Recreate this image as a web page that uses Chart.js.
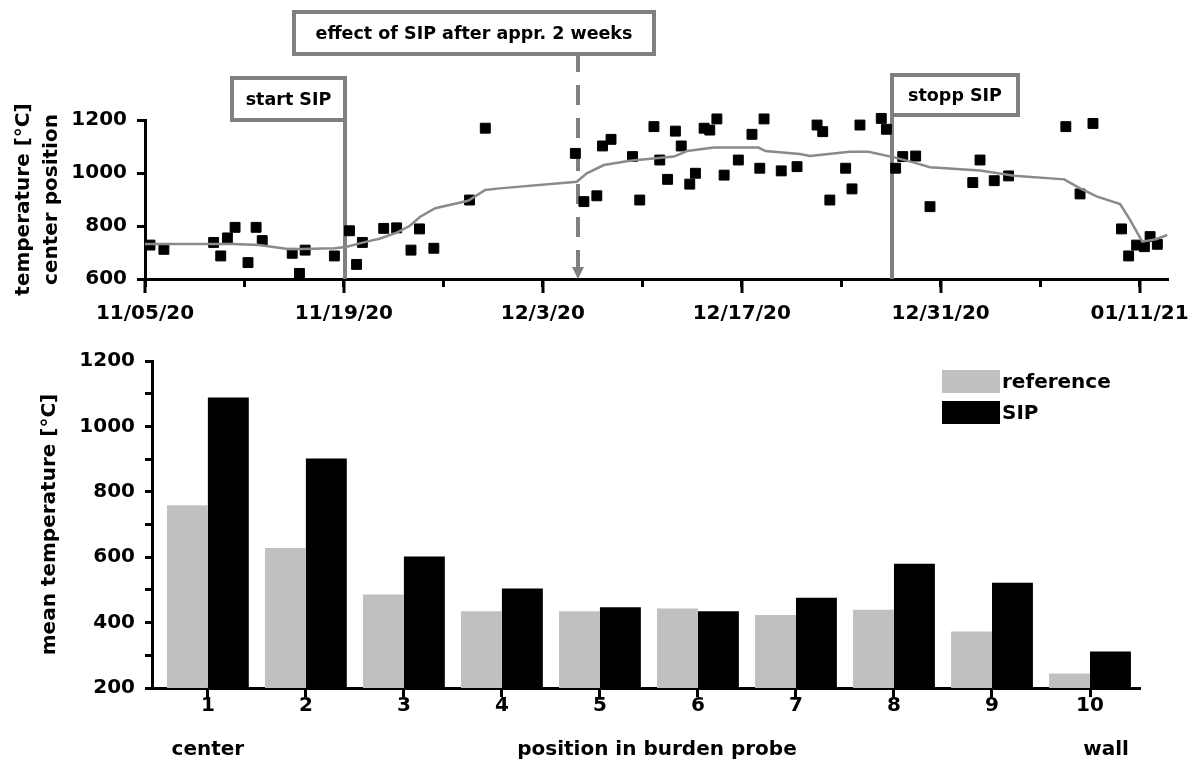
<!DOCTYPE html>
<html lang="en">
<head>
<meta charset="UTF-8">
<title>Burden probe temperatures with SIP</title>
<script src="https://cdn.jsdelivr.net/npm/chart.js"></script>
<style>
  body { margin: 0; background: #fff; }
  canvas { position: absolute; left: 0; }
  #tempChart { top: 0; }
  #meanChart { top: 330px; }
</style>
</head>
<body>
<canvas id="tempChart" width="1192" height="330"></canvas>
<canvas id="meanChart" width="1192" height="432"></canvas>
<script>
// time axis: days counted from 11/05/20
const weekTicks = [0, 7, 14, 21, 28, 35, 42, 49, 56, 63, 70];
const dateTicks = [0, 14, 28, 42, 56, 70];
const dateLabels = ['11/05/20', '11/19/20', '12/3/20', '12/17/20', '12/31/20', '01/11/21'];

// single readings at the center position
const sampleDays = [0.35, 1.33, 4.83, 5.33, 5.8, 6.34, 7.25, 7.82, 8.25, 10.36, 10.87, 11.27, 13.33, 14.39,
  14.89, 15.3, 16.8, 17.71, 18.72, 19.32, 20.33, 22.84, 23.95, 30.29, 30.89, 31.8, 32.2, 32.8, 34.31,
  34.82, 35.82, 36.23, 36.78, 37.33, 37.74, 38.34, 38.74, 39.35, 39.75, 40.25, 40.76, 41.76, 42.72,
  43.27, 43.57, 44.78, 45.89, 47.3, 47.7, 48.2, 49.31, 49.76, 50.32, 51.82, 52.18, 52.83, 53.33,
  54.24, 55.25, 58.26, 58.77, 59.77, 60.78, 64.81, 65.81, 66.72, 68.73, 69.23, 69.79, 70.34, 70.74, 71.25];
const sampleTemps = [728, 712, 738, 687, 755, 795, 662, 795, 745, 697, 621, 709, 687, 782,
  655, 738, 791, 793, 709, 789, 716, 898, 1169, 1074, 892, 914, 1102, 1127, 1062,
  898, 1175, 1049, 976, 1158, 1102, 958, 999, 1169, 1162, 1204, 992, 1049, 1146,
  1018, 1204, 1008, 1024, 1181, 1156, 898, 1018, 940, 1181, 1206, 1165, 1018, 1062,
  1064, 873, 964, 1049, 971, 989, 1175, 921, 1187, 789, 687, 728, 722, 760, 731];

// smoothed course
const trendDays = [0, 6.24, 8.05, 10.16, 13.38, 14.19, 15.6, 16.5, 17.71, 18.62, 19.37, 20.43, 22.74,
  23.95, 24.96, 30.39, 31.09, 32.3, 34.11, 37.23, 38.14, 40.05, 43.17, 43.67, 46.09, 46.79, 49.61,
  50.92, 52.73, 54.14, 55.25, 58.77, 61.18, 64.7, 65.81, 67.02, 68.63, 69.33, 70.19, 71.14, 71.95];
const trendTemps = [732, 732, 728, 712, 716, 722, 741, 752, 775, 800, 835, 867, 895,
  936, 942, 967, 999, 1030, 1046, 1062, 1083, 1096, 1096, 1083, 1072, 1064, 1080,
  1080, 1059, 1039, 1022, 1009, 990, 976, 942, 911, 883, 823, 741, 750, 766];

const eventDays = [14.05, 30.5, 52.6];
const eventLabels = ['start SIP', 'effect of SIP after appr. 2 weeks', 'stopp SIP'];

// mean temperature per probe position
const positions = [1, 2, 3, 4, 5, 6, 7, 8, 9, 10];
const referenceTemps = [759, 628, 486, 435, 435, 443, 423, 439, 373, 244];
const sipTemps = [1088, 902, 602, 504, 447, 435, 476, 580, 522, 312];

const GREY = '#808080';
const FONT = '"DejaVu Sans", sans-serif';
Chart.defaults.font.family = FONT;
Chart.defaults.font.size = 20;
Chart.defaults.font.weight = 'bold';
Chart.defaults.color = '#000';

const axisBorder = { color: '#000', width: 3 };
const axisGrid = (len) => ({ drawOnChartArea: false, offset: false, tickLength: len, tickWidth: 3, tickColor: '#000', color: '#000' });

// keep the axes where they are, labels may run into the margins
function fixHeight(h) {
  return s => { s.height = h; s.paddingLeft = 0; s.paddingRight = 0; };
}

function labelBox(ctx, x, y, w, h, text) {
  ctx.fillStyle = '#fff';
  ctx.fillRect(x, y, w, h);
  ctx.strokeStyle = GREY;
  ctx.lineWidth = 4;
  ctx.strokeRect(x, y, w, h);
  ctx.fillStyle = '#000';
  ctx.font = 'bold 17.5px ' + FONT;
  ctx.textAlign = 'center';
  ctx.textBaseline = 'middle';
  ctx.fillText(text, x + w / 2, y + h / 2 + 1);
}

const sipMarkers = {
  id: 'sipMarkers',
  beforeDatasetsDraw(chart) {
    const { ctx, chartArea: { top, bottom }, scales: { x } } = chart;
    const [xStart, xEffect, xStop] = eventDays.map(d => Math.round(x.getPixelForValue(d)));
    ctx.save();
    ctx.strokeStyle = GREY;
    ctx.lineWidth = 4;
    ctx.beginPath();
    ctx.moveTo(xStart, top - 42); ctx.lineTo(xStart, bottom);
    ctx.moveTo(xStop, top - 45); ctx.lineTo(xStop, bottom);
    ctx.stroke();
    // dashed arrow for the delayed effect
    ctx.setLineDash([20, 13]);
    ctx.beginPath();
    ctx.moveTo(xEffect, top - 68); ctx.lineTo(xEffect, bottom - 12);
    ctx.stroke();
    ctx.setLineDash([]);
    ctx.fillStyle = GREY;
    ctx.beginPath();
    ctx.moveTo(xEffect - 6, bottom - 12);
    ctx.lineTo(xEffect + 6, bottom - 12);
    ctx.lineTo(xEffect, bottom);
    ctx.closePath();
    ctx.fill();
    ctx.restore();
  },
  afterDraw(chart) {
    const { ctx, chartArea: { top, bottom }, scales: { x } } = chart;
    const [xStart, xEffect, xStop] = eventDays.map(d => Math.round(x.getPixelForValue(d)));
    ctx.save();
    labelBox(ctx, xStart - 113, top - 42, 113, 42, eventLabels[0]);
    labelBox(ctx, xEffect - 284, top - 108, 360, 42, eventLabels[1]);
    labelBox(ctx, xStop, top - 45, 126, 40, eventLabels[2]);
    // labelled dates get longer tick marks
    ctx.strokeStyle = '#000';
    ctx.lineWidth = 3;
    ctx.beginPath();
    dateTicks.forEach(d => {
      const px = Math.round(x.getPixelForValue(d));
      ctx.moveTo(px, bottom); ctx.lineTo(px, bottom + 14);
    });
    ctx.stroke();
    ctx.restore();
  }
};

new Chart(document.getElementById('tempChart'), {
  type: 'scatter',
  data: {
    datasets: [
      {
        type: 'line',
        label: 'trend',
        data: trendDays.map((d, i) => ({ x: d, y: trendTemps[i] })),
        borderColor: '#8a8a8a',
        borderWidth: 2.5,
        pointRadius: 0,
        tension: 0,
        fill: false,
        order: 0
      },
      {
        label: 'center position',
        data: sampleDays.map((d, i) => ({ x: d, y: sampleTemps[i] })),
        pointStyle: 'rect',
        pointRadius: 7,
        backgroundColor: '#000',
        borderColor: '#000',
        borderWidth: 1,
        clip: false,
        order: 1
      }
    ]
  },
  options: {
    responsive: false,
    animation: false,
    layout: { padding: { top: 120, right: 24, left: 0, bottom: 0 } },
    plugins: { legend: { display: false }, tooltip: { enabled: false } },
    scales: {
      x: {
        type: 'linear',
        min: 0,
        max: 72,
        afterFit: fixHeight(51),
        afterBuildTicks: s => { s.ticks = weekTicks.map(v => ({ value: v })); },
        border: axisBorder,
        grid: axisGrid(8),
        ticks: {
          autoSkip: false,
          maxRotation: 0,
          padding: 15,
          callback: v => {
            const i = dateTicks.indexOf(v);
            return i < 0 ? '' : dateLabels[i];
          }
        }
      },
      y: {
        min: 600,
        max: 1200,
        afterFit: s => { s.width = 145; },
        border: axisBorder,
        grid: axisGrid(8),
        ticks: { stepSize: 100, padding: 10, callback: v => (v % 200 === 0 ? v : '') },
        title: {
          display: true,
          text: ['temperature [°C]', 'center position'],
          font: { size: 20, weight: 'bold', lineHeight: 1.4 },
          padding: { top: 10, bottom: 0 }
        }
      }
    }
  },
  plugins: [sipMarkers]
});

const barLegend = {
  id: 'barLegend',
  afterDraw(chart) {
    const { ctx, chartArea, scales: { x } } = chart;
    ctx.save();
    ctx.font = 'bold 20px ' + FONT;
    ctx.textBaseline = 'middle';
    ctx.textAlign = 'left';
    chart.data.datasets.forEach((ds, i) => {
      const y = chartArea.top + 9 + i * 31;
      ctx.fillStyle = ds.backgroundColor;
      ctx.fillRect(chartArea.right - 198, y, 58, 23);
      ctx.fillStyle = '#000';
      ctx.fillText(ds.label, chartArea.right - 138, y + 13);
    });
    // ends of the probe and axis caption
    const first = x.getPixelForValue(positions[0]);
    const last = x.getPixelForValue(positions[positions.length - 1]) + 16;
    const y = x.bottom - 12;
    ctx.textAlign = 'center';
    ctx.fillText('center', first, y);
    ctx.fillText('wall', last, y);
    ctx.fillText('position in burden probe', (first + last) / 2, y);
    ctx.restore();
  }
};

new Chart(document.getElementById('meanChart'), {
  type: 'bar',
  data: {
    labels: positions,
    datasets: [
      { label: 'reference', data: referenceTemps, backgroundColor: '#c0c0c0', borderWidth: 0 },
      { label: 'SIP', data: sipTemps, backgroundColor: '#000', borderWidth: 0 }
    ]
  },
  options: {
    responsive: false,
    animation: false,
    datasets: { bar: { categoryPercentage: 0.835, barPercentage: 1 } },
    layout: { padding: { top: 31, right: 52, left: 0, bottom: 0 } },
    plugins: { legend: { display: false }, tooltip: { enabled: false } },
    scales: {
      x: {
        type: 'linear',
        min: 0.43,
        max: 10.51,
        offset: false,
        afterFit: fixHeight(74),
        afterBuildTicks: s => { s.ticks = positions.map(v => ({ value: v })); },
        border: axisBorder,
        grid: axisGrid(9),
        ticks: { padding: -3, autoSkip: false, maxRotation: 0 }
      },
      y: {
        min: 200,
        max: 1200,
        afterFit: s => { s.width = 152; },
        border: axisBorder,
        grid: axisGrid(7),
        ticks: { stepSize: 100, padding: 10, callback: v => (v % 200 === 0 ? v : '') },
        title: {
          display: true,
          text: 'mean temperature [°C]',
          padding: { top: 38, bottom: 0 }
        }
      }
    }
  },
  plugins: [barLegend]
});
</script>
</body>
</html>
